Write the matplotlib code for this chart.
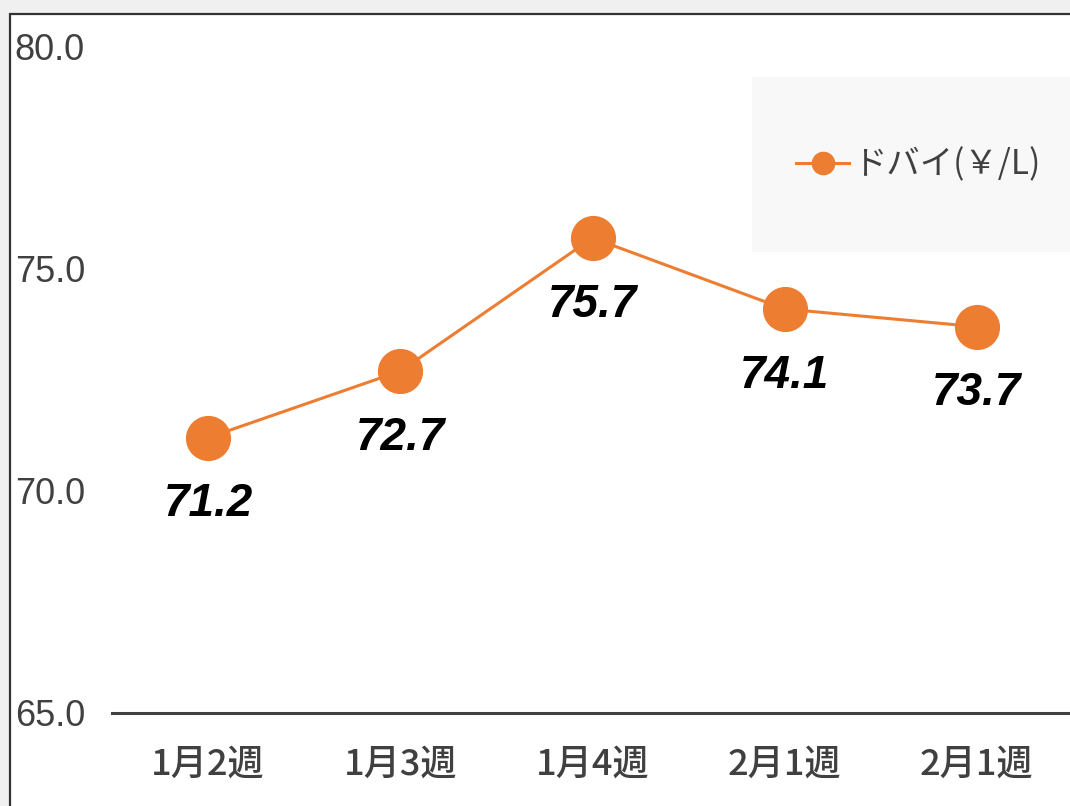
import matplotlib.pyplot as plt
from matplotlib.patches import Rectangle
from matplotlib.lines import Line2D

weeks = ["1月2週", "1月3週", "1月4週", "2月1週", "2月1週"]
dubai = [71.2, 72.7, 75.7, 74.1, 73.7]
series_name = "ドバイ(￥/L)"
y_ticks = [65.0, 70.0, 75.0, 80.0]

ORANGE = "#ED7D31"
GRAY = "#404040"
NUM = ["Liberation Sans Narrow", "Liberation Sans", "DejaVu Sans"]
JP = ["Noto Sans CJK JP", "DejaVu Sans"]

fig = plt.figure(figsize=(10.7, 8.06), dpi=100)
fig.patch.set_facecolor("#f0f0f0")

# white chart area with dark frame (left and top edges visible)
W, H = 1070.0, 806.0
fig.patches.append(Rectangle((10 / W, -0.1), 1.2, 1 - 14 / H + 0.1, transform=fig.transFigure,
                             facecolor="white", edgecolor="#333333", lw=1.6, zorder=-3))
# legend background
fig.patches.append(Rectangle((752 / W, 1 - 252 / H), 0.4, 175 / H, transform=fig.transFigure,
                             facecolor="#f8f8f8", edgecolor="none", zorder=-2))

ax = fig.add_axes([112 / W, 1 - 713 / H, 961 / W, 666 / H])
ax.set_facecolor("none")
ax.set_zorder(1)

x = list(range(len(weeks)))
ax.plot(x, dubai, color=ORANGE, lw=2.2, marker="o", ms=31.5, mec=ORANGE, mfc=ORANGE,
        label=series_name, zorder=3, clip_on=False)

for xi, v in zip(x, dubai):
    ax.annotate(f"{v:.1f}", (xi, v), xytext=(0, -48), textcoords="offset points",
                ha="center", va="center", fontsize=33, fontweight="bold", fontstyle="italic",
                family=NUM, color="black")

ax.set_xlim(-0.5, len(weeks) - 0.5)
ax.set_ylim(65, 80)
ax.set_yticks(y_ticks)
ax.set_yticklabels([f"{t:.1f}" for t in y_ticks], family=NUM, fontsize=26, color=GRAY, ha="left")
ax.set_xticks(x)
ax.set_xticklabels(weeks, family=JP, fontsize=26, fontweight="medium", color=GRAY)
ax.tick_params(axis="y", length=0, pad=70)
ax.tick_params(axis="x", length=0, pad=24)

for s in ["top", "right", "left"]:
    ax.spines[s].set_visible(False)
ax.spines["bottom"].set_color(GRAY)
ax.spines["bottom"].set_linewidth(2.2)

handle = Line2D([], [], color=ORANGE, lw=2.2, marker="o", ms=16, mfc=ORANGE, mec=ORANGE)
leg = fig.legend([handle], [series_name], loc="center", bbox_to_anchor=(918 / W, 1 - 165 / H),
                 frameon=False, handlelength=1.6, handletextpad=0.1,
                 prop={"family": JP, "size": 24})
for t in leg.get_texts():
    t.set_color(GRAY)

fig.savefig("out.png", dpi=100, facecolor=fig.get_facecolor())
